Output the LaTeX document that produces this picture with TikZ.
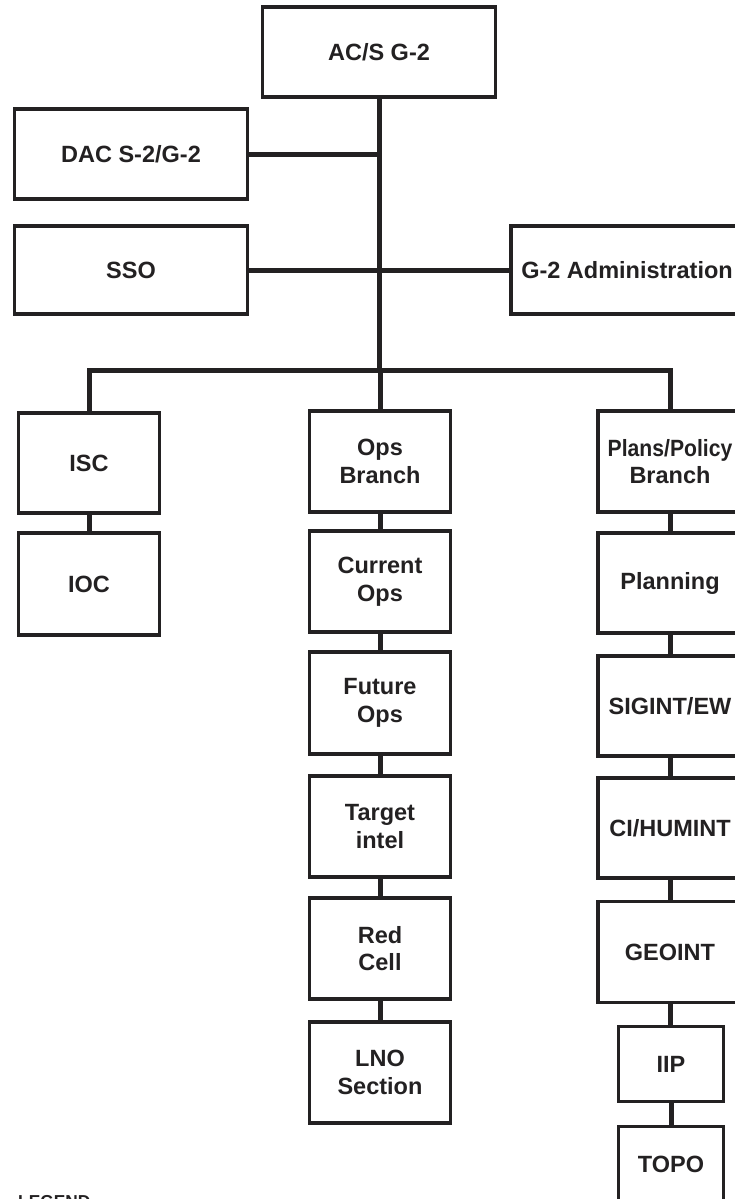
\documentclass[tikz,border=0pt]{standalone}
\usepackage{fontspec}
\usepackage{graphicx}
\setmainfont{Liberation Sans}
\definecolor{ink}{RGB}{35,33,34}
\begin{document}
\begin{tikzpicture}[x=1pt,y=-1pt,
  box/.style={draw=ink, line width=3.4pt, text=ink, fill=white,
    font=\fontsize{23.5}{27.5}\selectfont\bfseries, align=center,
    inner sep=0pt, outer sep=0pt},
  link/.style={draw=ink, line width=5pt}]
\useasboundingbox (0,0) rectangle (735,1199);
\clip (0,0) rectangle (735,1199);
\coordinate (bus) at (379,370);
% top level
\node[box, minimum width=233pt, minimum height=90pt] (acs) at (379,52) {AC/S G-2};
\node[box, minimum width=233pt, minimum height=90pt] (dac) at (131,154) {DAC S-2/G-2};
\node[box, minimum width=233pt, minimum height=88pt] (sso) at (131,270) {SSO};
\node[box, minimum width=232pt, minimum height=88pt] (adm) at (627,270) {G-2 Administration};
% left column
\node[box, minimum width=141pt, minimum height=100pt] (isc) at (89,463) {ISC};
\node[box, minimum width=141pt, minimum height=102pt] (ioc) at (89,584) {IOC};
% middle column
\node[box, minimum width=141pt, minimum height=101pt] (opsb) at (380,461.5) {Ops\\Branch};
\node[box, minimum width=141pt, minimum height=101pt] (cur) at (380,581.5) {Current\\Ops};
\node[box, minimum width=141pt, minimum height=102pt] (fut) at (380,703) {Future\\Ops};
\node[box, minimum width=141pt, minimum height=101pt] (tgt) at (380,826.5) {Target\\intel};
\node[box, minimum width=141pt, minimum height=101pt] (red) at (380,948.5) {Red\\Cell};
\node[box, minimum width=141pt, minimum height=101pt] (lno) at (380,1072.5) {LNO\\Section};
% right column
\node[box, minimum width=144pt, minimum height=101pt] (plans) at (670,461.5) {\scalebox{0.9}[1]{Plans/Policy}\\Branch};
\node[box, minimum width=144pt, minimum height=100pt] (plan) at (670,583) {Planning};
\node[box, minimum width=144pt, minimum height=100pt] (sig) at (670,706) {SIGINT/EW};
\node[box, minimum width=144pt, minimum height=100pt] (ci) at (670,828) {CI/HUMINT};
\node[box, minimum width=144pt, minimum height=101pt] (geo) at (670,952) {GEOINT};
\node[box, minimum width=105pt, minimum height=75pt] (iip) at (671,1064) {IIP};
\node[box, minimum width=105pt, minimum height=75pt] (topo) at (671,1164) {TOPO};
% legend
\node[anchor=base west, inner sep=0pt, text=ink, font=\fontsize{17.3}{20}\selectfont\bfseries] (legend) at (18,1207.4) {LEGEND};
% connectors
\draw[link] (acs.south) -- (bus);
\draw[link] (dac.east) -- (dac.east -| acs.south);
\draw[link] (sso.east) -- (adm.west);
\draw[link] (isc.north) -- (isc.north |- bus) -- (plans.north |- bus) -- (plans.north);
\draw[link] (opsb.north |- bus) -- (opsb.north);
\draw[link] (isc.south) -- (ioc.north);
\draw[link] (opsb.south) -- (cur.north);
\draw[link] (cur.south) -- (fut.north);
\draw[link] (fut.south) -- (tgt.north);
\draw[link] (tgt.south) -- (red.north);
\draw[link] (red.south) -- (lno.north);
\draw[link] (plans.south) -- (plan.north);
\draw[link] (plan.south) -- (sig.north);
\draw[link] (sig.south) -- (ci.north);
\draw[link] (ci.south) -- (geo.north);
\draw[link] (geo.south) -- (geo.south |- iip.north);
\draw[link] (iip.south) -- (topo.north);
\end{tikzpicture}
\end{document}
